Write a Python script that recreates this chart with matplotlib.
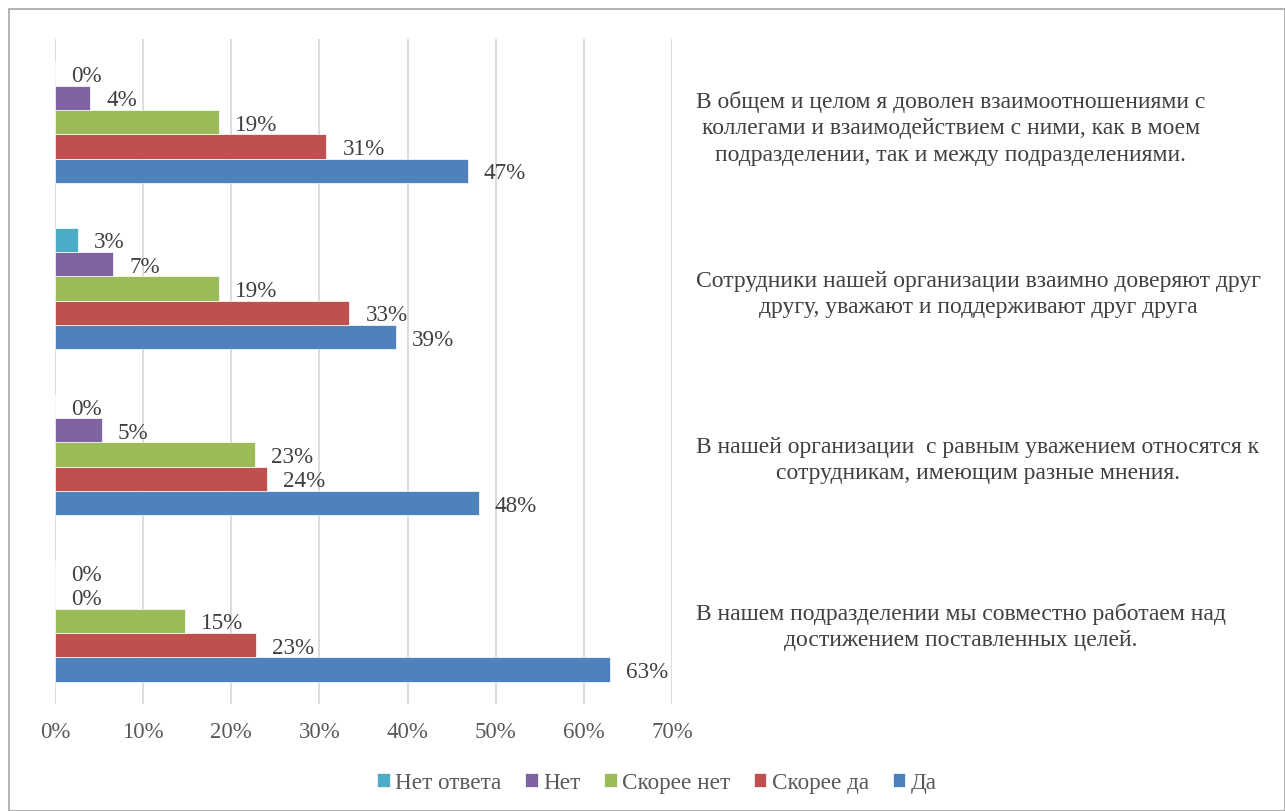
import matplotlib
matplotlib.use("Agg")
import matplotlib.pyplot as plt
import numpy as np
from matplotlib.patches import Rectangle

plt.rcParams['font.family'] = ['Liberation Serif', 'DejaVu Serif']

# Categories listed bottom to top
categories = [
    "В нашем подразделении мы совместно работаем над\nдостижением поставленных целей.",
    "В нашей организации  с равным уважением относятся к\nсотрудникам, имеющим разные мнения.",
    "Сотрудники нашей организации взаимно доверяют друг\nдругу, уважают и поддерживают друг друга",
    "В общем и целом я доволен взаимоотношениями с\nколлегами и взаимодействием с ними, как в моем\nподразделении, так и между подразделениями.",
]
series_names = ["Да", "Скорее да", "Скорее нет", "Нет", "Нет ответа"]
da = [63.0, 48.1, 38.7, 46.8]
skoree_da = [22.8, 24.1, 33.4, 30.8]
skoree_net = [14.7, 22.7, 18.6, 18.6]
net = [0.0, 5.3, 6.6, 4.0]
net_otveta = [0.0, 0.0, 2.6, 0.0]
series_values = [da, skoree_da, skoree_net, net, net_otveta]
colors = ["#4F81BD", "#C0504D", "#9BBB59", "#8064A2", "#4BACC6"]
xticks = [0, 10, 20, 30, 40, 50, 60, 70]
xtick_labels = [f"{t}%" for t in xticks]

W, H = 1285, 812
fig = plt.figure(figsize=(W / 100, H / 100), dpi=100)
ax = fig.add_axes([55 / W, 1 - 705 / H, (672 - 55) / W, (705 - 40) / H])

n_series = len(series_values)
bar_h = 0.146
y_base = np.arange(len(categories))
handles = []
for i, (vals, col, name) in enumerate(zip(series_values, colors, series_names)):
    ypos = y_base + (i - (n_series - 1) / 2) * bar_h
    b = ax.barh(ypos, vals, height=bar_h, color=col, edgecolor='white', linewidth=0.5,
                label=name, zorder=3)
    handles.append(b)
    for y, v in zip(ypos, vals):
        ax.annotate(f"{round(v):.0f}%", xy=(v, y), xytext=(11.5, -1.5), textcoords='offset points',
                    ha='left', va='center', fontsize=16.7, color='#404040')

ax.set_xlim(0, 70)
ax.set_ylim(-0.5, len(categories) - 0.5)
ax.set_xticks(xticks)
ax.set_xticklabels(xtick_labels, fontsize=16.5, color='#595959')
ax.tick_params(axis='x', length=0, pad=12)
ax.grid(axis='x', color='#d9d9d9', linewidth=1.3, zorder=0)
ax.set_axisbelow(True)
for s in ax.spines.values():
    s.set_visible(False)

ax.yaxis.tick_right()
ax.set_yticks(y_base)
ax.set_yticklabels(categories, fontsize=17, color='#404040', ha='left',
                   multialignment='center', linespacing=1.33)
ax.tick_params(axis='y', length=0, pad=(696 - 672) * 0.72)

leg = fig.legend(handles[::-1], series_names[::-1], loc='center', bbox_to_anchor=(657 / W, 1 - 784 / H),
                 ncol=5, frameon=False, fontsize=16.7, handlelength=0.55, handleheight=0.55,
                 handletextpad=0.25, columnspacing=1.0, labelcolor='#595959')

fig.patches.append(Rectangle((9 / W, 0), 1 - 9 / W, 1 - 10 / H, transform=fig.transFigure,
                             fill=False, edgecolor='#a6a6a6', linewidth=1.2))

fig.savefig("out.png", dpi=100)
